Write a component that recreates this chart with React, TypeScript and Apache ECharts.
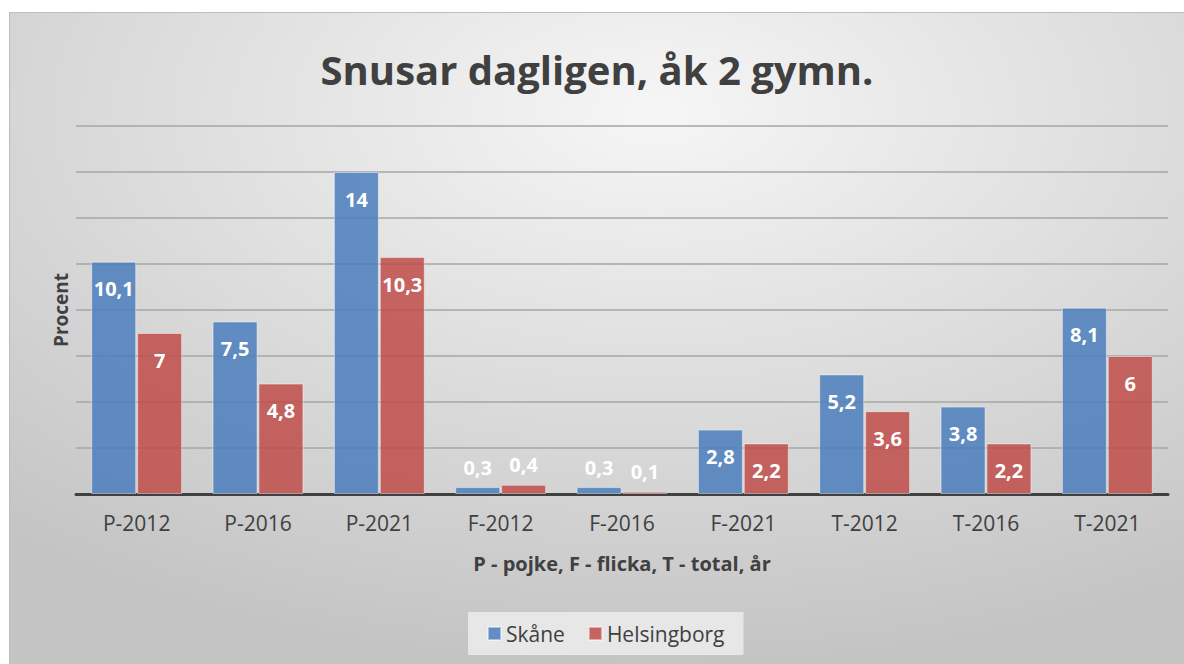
import React, { useEffect, useRef } from "react";
import * as echarts from "echarts";

const categories = ["P-2012", "P-2016", "P-2021", "F-2012", "F-2016", "F-2021", "T-2012", "T-2016", "T-2021"];
const skane = [10.1, 7.5, 14, 0.3, 0.3, 2.8, 5.2, 3.8, 8.1];
const helsingborg = [7, 4.8, 10.3, 0.4, 0.1, 2.2, 3.6, 2.2, 6];
const seriesNames = ["Skåne", "Helsingborg"];
const titleText = "Snusar dagligen, åk 2 gymn.";
const yAxisName = "Procent";
const xAxisName = "P - pojke, F - flicka, T - total, år";

const FONT = "'Open Sans', Lato, sans-serif";

function mkData(vals: number[]) {
  return vals.map((v) => ({
    value: v,
    label: v < 1
      ? { position: "top", distance: 10 }
      : { position: "insideTop", distance: 17 },
  }));
}

export default function App() {
  const ref = useRef<HTMLDivElement>(null);
  useEffect(() => {
    if (!ref.current) return;
    const chart = echarts.init(ref.current, null, { renderer: "svg" });
    const labelCommon = {
      show: true,
      color: "#ffffff",
      fontWeight: "bold",
      fontSize: 20,
      fontFamily: FONT,
      formatter: (p: any) => String(p.value).replace(".", ","),
    };
    chart.setOption({
      animation: false,
      backgroundColor: {
        type: "radial",
        x: 0.55,
        y: 0.15,
        r: 0.85,
        colorStops: [
          { offset: 0, color: "#f6f6f6" },
          { offset: 1, color: "#c4c4c4" },
        ],
      },
      title: {
        text: titleText,
        left: "center",
        top: 31,
        textStyle: { fontSize: 40, fontWeight: "bold", color: "#404040", fontFamily: FONT },
      },
      grid: { left: 66, right: 16, top: 113, bottom: 170 },
      legend: {
        data: seriesNames,
        bottom: 9,
        left: 458,
        itemWidth: 13,
        itemHeight: 13,
        itemGap: 23,
        padding: [11, 19],
        backgroundColor: "rgba(236,236,236,0.85)",
        textStyle: { fontSize: 21, color: "#404040", fontFamily: FONT },
        icon: "rect",
      },
      xAxis: {
        type: "category",
        data: categories,
        axisLine: { show: true, lineStyle: { color: "#404040", width: 3 } },
        axisTick: { show: false },
        axisLabel: { fontSize: 21, color: "#404040", fontFamily: FONT, margin: 18 },
        name: xAxisName,
        nameLocation: "middle",
        nameGap: 59,
        nameTextStyle: { fontSize: 20, fontWeight: "bold", color: "#404040", fontFamily: FONT },
      },
      yAxis: {
        type: "value",
        min: 0,
        max: 16,
        interval: 2,
        axisLabel: { show: false },
        axisLine: { show: false },
        axisTick: { show: false },
        splitLine: { lineStyle: { color: "#a6a6a6", width: 1.5 } },
        name: yAxisName,
        nameLocation: "middle",
        nameGap: 6,
        nameRotate: 90,
        nameTextStyle: { fontSize: 19, fontWeight: "bold", color: "#404040", fontFamily: FONT },
      },
      series: [
        {
          name: seriesNames[0],
          type: "bar",
          data: mkData(skane),
          barWidth: 45,
          barGap: "2%",
          itemStyle: { color: "rgba(74,126,189,0.85)", borderColor: "rgba(255,255,255,0.45)", borderWidth: 1 },
          label: labelCommon,
        },
        {
          name: seriesNames[1],
          type: "bar",
          data: mkData(helsingborg),
          barWidth: 45,
          itemStyle: { color: "rgba(192,76,74,0.85)", borderColor: "rgba(255,255,255,0.45)", borderWidth: 1 },
          label: labelCommon,
        },
      ],
    });
    return () => chart.dispose();
  }, []);
  return (
    <div
      ref={ref}
      style={{
        position: "absolute",
        left: 9,
        top: 12,
        width: 1175,
        height: 652,
        borderTop: "1px solid #bdbdbd",
        borderLeft: "1px solid #bdbdbd",
        boxSizing: "border-box",
      }}
    />
  );
}
